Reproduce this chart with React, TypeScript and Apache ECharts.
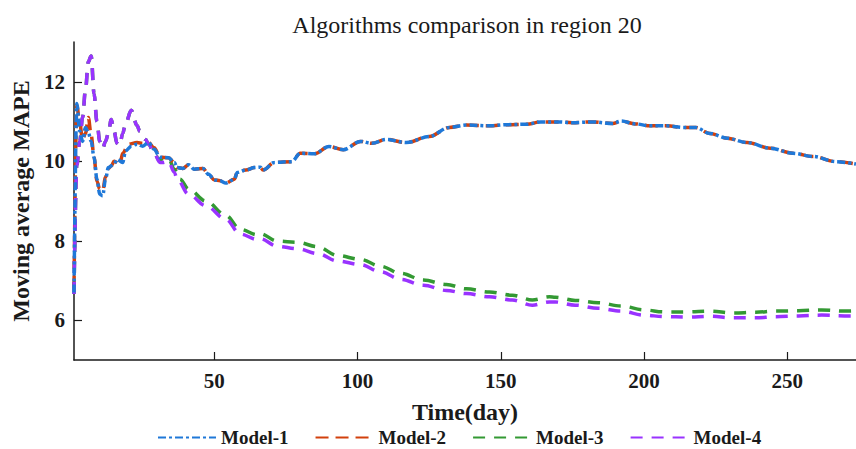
import React, { useEffect, useRef } from "react";
import * as echarts from "echarts";

// Moving average MAPE per model, sampled by day
const m1Days = [1, 2, 3, 4, 5, 6, 7, 8, 9, 10, 11, 12, 13, 15, 16, 18, 19, 21, 23, 25, 27, 29, 31, 34, 36, 37, 39, 41, 43, 46, 48, 50, 52, 54, 57, 58, 61, 64, 66, 67, 71, 77, 80, 85, 90, 95, 101, 105, 110, 117, 125, 132, 138, 146, 152, 159, 164, 170, 175, 182, 189, 192, 197, 202, 208, 214, 218, 223, 229, 236, 244, 252, 259, 267, 274];
const m1Vals = [6.7, 11.45, 10.76, 10.5, 10.85, 10.72, 10.5, 10.1, 9.55, 9.17, 9.13, 9.55, 9.84, 9.93, 10.05, 9.97, 10.26, 10.38, 10.43, 10.38, 10.47, 10.3, 10.1, 10.09, 9.97, 9.84, 9.82, 9.91, 9.8, 9.82, 9.67, 9.53, 9.51, 9.45, 9.55, 9.72, 9.78, 9.84, 9.85, 9.78, 9.97, 9.99, 10.2, 10.19, 10.37, 10.29, 10.5, 10.45, 10.55, 10.47, 10.62, 10.85, 10.91, 10.89, 10.92, 10.93, 10.99, 10.99, 10.97, 10.99, 10.95, 11.01, 10.94, 10.89, 10.89, 10.85, 10.85, 10.7, 10.58, 10.47, 10.33, 10.2, 10.12, 9.99, 9.93];

const m2Days = [1, 2, 3, 4, 5, 6, 7, 8, 9, 10, 11, 12, 13, 14, 15, 17, 18, 20, 23, 25, 27, 29, 31, 34, 36, 37, 39, 41, 43, 46, 48, 50, 52, 54, 57, 58, 61, 64, 66, 67, 71, 77, 80, 85, 90, 95, 101, 105, 110, 117, 125, 132, 138, 146, 152, 159, 164, 170, 175, 182, 189, 192, 197, 202, 208, 214, 218, 223, 229, 236, 244, 252, 259, 267, 274];
const m2Vals = [6.8, 11.4, 10.95, 10.55, 10.7, 11.1, 10.65, 10.1, 9.5, 9.3, 9.25, 9.6, 9.82, 9.88, 10.0, 9.92, 10.2, 10.43, 10.47, 10.45, 10.47, 10.34, 10.1, 10.09, 9.97, 9.84, 9.82, 9.91, 9.8, 9.82, 9.67, 9.53, 9.51, 9.45, 9.55, 9.72, 9.78, 9.84, 9.85, 9.78, 9.97, 9.99, 10.2, 10.19, 10.37, 10.29, 10.5, 10.45, 10.55, 10.47, 10.62, 10.85, 10.91, 10.89, 10.92, 10.93, 10.99, 10.99, 10.97, 10.99, 10.95, 11.01, 10.94, 10.89, 10.89, 10.85, 10.85, 10.7, 10.58, 10.47, 10.33, 10.2, 10.12, 9.99, 9.93];

const m3Days = [1, 2, 3, 4, 5, 6, 7, 8, 9, 10, 11, 12, 13, 14, 15, 16, 17, 18, 19, 21, 23, 24, 26, 27, 29, 31, 32, 34, 36, 38, 41, 47, 54, 59, 65, 66, 72, 79, 86, 93, 101, 108, 115, 123, 131, 138, 146, 154, 161, 167, 169, 176, 184, 192, 200, 207, 215, 223, 231, 239, 246, 254, 262, 270, 274];
const m3Vals = [6.66, 9.9, 10.5, 11.1, 11.8, 12.5, 12.65, 11.7, 11.0, 10.5, 10.32, 10.5, 10.7, 11.05, 10.75, 10.45, 10.4, 10.7, 10.95, 11.28, 10.9, 10.75, 10.55, 10.43, 10.2, 10.0, 10.09, 10.08, 9.8, 9.55, 9.3, 9.0, 8.64, 8.29, 8.15, 8.18, 7.99, 7.96, 7.85, 7.63, 7.53, 7.36, 7.18, 7.01, 6.9, 6.79, 6.71, 6.63, 6.51, 6.59, 6.58, 6.5, 6.44, 6.36, 6.26, 6.21, 6.21, 6.23, 6.18, 6.2, 6.23, 6.24, 6.26, 6.23, 6.24];

const m4Days = [1, 2, 3, 4, 5, 6, 7, 8, 9, 10, 11, 12, 13, 14, 15, 16, 17, 18, 19, 21, 23, 24, 26, 27, 29, 31, 32, 34, 36, 37, 41, 47, 54, 59, 65, 66, 72, 79, 86, 93, 101, 108, 115, 123, 131, 138, 146, 154, 161, 167, 169, 176, 184, 192, 200, 207, 215, 223, 231, 239, 246, 254, 262, 270, 274];
const m4Vals = [6.66, 9.9, 10.5, 11.1, 11.8, 12.5, 12.65, 11.7, 11.0, 10.5, 10.32, 10.5, 10.7, 11.05, 10.75, 10.45, 10.4, 10.7, 10.95, 11.28, 10.9, 10.75, 10.55, 10.43, 10.2, 9.97, 9.97, 10.0, 9.72, 9.55, 9.17, 8.88, 8.54, 8.17, 8.03, 8.05, 7.86, 7.8, 7.68, 7.49, 7.4, 7.22, 7.03, 6.88, 6.75, 6.67, 6.59, 6.51, 6.38, 6.46, 6.46, 6.38, 6.3, 6.23, 6.13, 6.09, 6.08, 6.1, 6.06, 6.06, 6.09, 6.11, 6.13, 6.11, 6.11];

const xTicks = [50, 100, 150, 200, 250];
const yTicks = [6, 8, 10, 12];

const FONT = "'Liberation Serif', 'Times New Roman', serif";
const INK = "#1a1a1a";

const pairs = (xs: number[], ys: number[]) => xs.map((x, i) => [x, ys[i]]);

const lineSeries = (
  name: string,
  xs: number[],
  ys: number[],
  color: string,
  dash: number[],
  z: number
) => ({
  name,
  type: "line",
  data: pairs(xs, ys),
  smooth: 0.35,
  smoothMonotone: "x",
  symbol: "none",
  z,
  lineStyle: { color, width: 3.5, type: dash },
  itemStyle: { color },
});

export default function App() {
  const ref = useRef<HTMLDivElement>(null);

  useEffect(() => {
    if (!ref.current) return;
    const chart = echarts.init(ref.current, undefined, { renderer: "svg" });
    chart.setOption({
      animation: false,
      backgroundColor: "#ffffff",
      title: {
        text: "Algorithms comparison in region 20",
        left: 467,
        top: 13,
        padding: 0,
        textAlign: "center",
        textStyle: {
          fontFamily: FONT,
          fontWeight: "normal",
          fontSize: 24,
          color: INK,
        },
      },
      legend: {
        left: 157,
        top: 428,
        itemWidth: 58,
        itemHeight: 14,
        itemGap: 26,
        padding: 0,
        // line-only keys: hide the marker drawn on top of each key line
        itemStyle: { opacity: 0 },
        data: ["Model-1", "Model-2", "Model-3", "Model-4"],
        textStyle: {
          fontFamily: FONT,
          fontWeight: "bold",
          fontSize: 19,
          color: INK,
        },
      },
      grid: { left: 74, right: 0, top: 42, bottom: 89, containLabel: false },
      xAxis: {
        type: "value",
        min: 1,
        max: 274,
        name: "Time(day)",
        nameLocation: "middle",
        nameGap: 40,
        nameTextStyle: {
          fontFamily: FONT,
          fontWeight: "bold",
          fontSize: 24,
          color: INK,
        },
        splitLine: { show: false },
        axisLine: { lineStyle: { color: INK, width: 1.5 } },
        axisTick: {
          inside: true,
          length: 8,
          customValues: xTicks,
          lineStyle: { color: INK, width: 1.2 },
        },
        axisLabel: {
          customValues: xTicks,
          margin: 10,
          fontFamily: FONT,
          fontWeight: "bold",
          fontSize: 21,
          color: INK,
        },
      },
      yAxis: {
        type: "value",
        min: 5,
        max: 13,
        name: "Moving average MAPE",
        nameLocation: "middle",
        nameGap: 35,
        nameTextStyle: {
          fontFamily: FONT,
          fontWeight: "bold",
          fontSize: 24,
          color: INK,
        },
        splitLine: { show: false },
        axisLine: { show: true, lineStyle: { color: INK, width: 1.5 } },
        axisTick: {
          show: true,
          inside: true,
          length: 8,
          customValues: yTicks,
          lineStyle: { color: INK, width: 1.2 },
        },
        axisLabel: {
          customValues: yTicks,
          margin: 9,
          fontFamily: FONT,
          fontWeight: "bold",
          fontSize: 21,
          color: INK,
        },
      },
      series: [
        lineSeries("Model-1", m1Days, m1Vals, "#1f78d8", [8, 3, 3, 3], 4),
        lineSeries("Model-2", m2Days, m2Vals, "#d2400c", [13, 7], 3),
        lineSeries("Model-3", m3Days, m3Vals, "#339933", [12, 9], 2),
        lineSeries("Model-4", m4Days, m4Vals, "#9933ff", [12, 9], 3),
      ],
    });
    return () => chart.dispose();
  }, []);

  return (
    <div
      ref={ref}
      style={{ position: "fixed", left: 0, top: 0, width: 856, height: 449 }}
    />
  );
}
